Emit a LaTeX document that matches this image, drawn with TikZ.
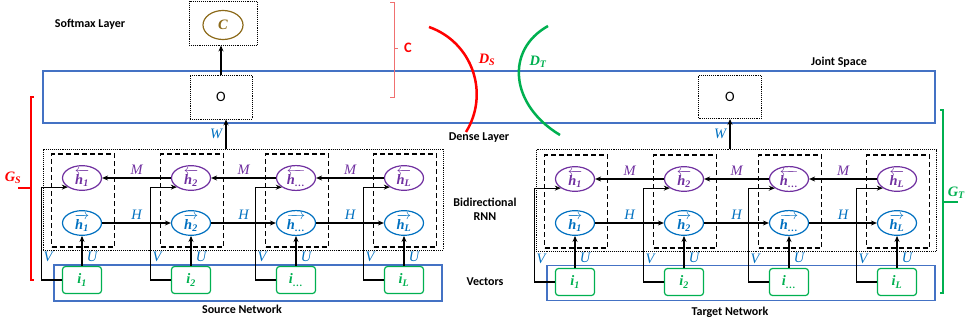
\documentclass[tikz,border=0pt]{standalone}
\usepackage{amsmath}
\usepackage{fontspec}
\setmainfont{Carlito}
\newfontfamily\cambria{Liberation Serif}
\newcommand{\vi}[1]{{\cambria\itshape #1}}
\newcommand{\vb}[1]{\text{\cambria\bfseries\itshape #1}}
\usetikzlibrary{shapes.geometric, arrows.meta}
\definecolor{rnnblue}{HTML}{0070C0}
\definecolor{rnnpurple}{HTML}{7030A0}
\definecolor{rnngreen}{HTML}{00B050}
\definecolor{boxblue}{HTML}{4472C4}
\definecolor{softbrown}{HTML}{8C6A1A}
\definecolor{lightred}{HTML}{F07070}
\begin{document}
\begin{tikzpicture}[
    x=1pt, y=-1pt, >={Stealth[length=6pt, width=5pt]},
    fwd/.style={draw=rnnblue, line width=1.2pt, ellipse, minimum width=39pt, minimum height=24pt, inner sep=0pt, text=rnnblue, font=\Large},
    bwd/.style={fwd, draw=rnnpurple, text=rnnpurple},
    inp/.style={draw=rnngreen, line width=1.2pt, rounded corners=3pt, minimum width=39pt, minimum height=27pt, inner sep=0pt, text=rnngreen, font=\Large},
    cell/.style={draw, dash pattern=on 5pt off 3pt, line width=1.1pt, minimum width=63pt, minimum height=93pt, inner sep=0pt},
    dotbox/.style={draw, densely dotted, line width=0.9pt, inner sep=0pt},
    bluebox/.style={draw=boxblue, line width=1.1pt, inner sep=0pt},
    lbl/.style={font=\large\bfseries},
    wlbl/.style={text=rnnblue, font=\Large},
    wire/.style={line width=1.1pt, ->}
]
  \useasboundingbox (0,0) rectangle (965,326);

  % Joint space and dense layer
  \node[bluebox, minimum width=892pt, minimum height=52pt] (joint) at (489,97) {};
  \node[dotbox, minimum width=62pt, minimum height=44pt, font=\Large] (so) at (221,97) {O};
  \node[dotbox, minimum width=63pt, minimum height=43pt, font=\Large] (to) at (730,97) {O};

  % Softmax layer
  \node[dotbox, minimum width=68pt, minimum height=44pt] (smax) at (223,23) {};
  \node[ellipse, draw=softbrown, line width=1.2pt, minimum width=40pt, minimum height=29pt, inner sep=0pt, text=softbrown, font=\Large] (cls) at (223,25) {$\vb{C}$};
  \draw[wire] (so.north) -- (so.north |- smax.south);

  % Source and target networks
  \foreach \p/\dx/\dy in {s/0/0, t/493/1} {
    \node[dotbox, minimum width=400pt, minimum height=101pt+\dy pt] (\p bir) at (243+\dx,199.5+\dy) {};
    \node[bluebox, minimum width=388pt, minimum height=36pt-\dy pt] (\p vec) at (248+\dx,283) {};
    \foreach \i/\x/\sub in {1/82/1, 2/191/2, 3/296/{\dots}, 4/404/L} {
      \node[cell] (\p c\i) at (\x+\dx+1,200.5+\dy) {};
      \node[bwd] (\p b\i) at (\x+\dx,178+\dy) {$\overleftarrow{\vb{h}_{\vb{\sub}}}$};
      \node[fwd] (\p f\i) at (\x+\dx,223) {$\overrightarrow{\vb{h}_{\vb{\sub}}}$};
      \node[inp] (\p i\i) at (\x+\dx,280+2*\dy) {$\vb{i}_{\vb{\sub}}$};
      \draw[wire] (\p i\i) -- node[pos=0.3, right, xshift=1pt, wlbl] {\vi{U}} (\p f\i);
      \draw[wire] (\p i\i.west) -- ++(-20,0) coordinate (\p v\i) |- (\p b\i.south west);
      \path (\p v\i) ++(0,-23) node[right, inner sep=1.5pt, wlbl] {\vi{V}};
    }
    \foreach \i/\j in {1/2, 2/3, 3/4} {
      \draw[wire] (\p f\i) -- node[above, wlbl] {\vi{H}} (\p f\j);
      \draw[wire] (\p b\j) -- node[above, wlbl, text=rnnpurple] {\vi{M}} (\p b\i);
    }
  }

  % Dense layer inputs
  \coordinate (sw) at ([xshift=5pt]so.south);
  \draw[wire] (sw |- sbir.north) -- node[left, wlbl] {\vi{W}} (sw);
  \draw[wire] (to.south |- tbir.north) -- node[left, wlbl] {\vi{W}} (to.south);

  % Brackets and discriminators
  \draw[lightred, line width=0.6pt] (390,2) -- (394,2) -- (394,97) -- (390,97);
  \draw[lightred, line width=0.6pt] (394,48) -- (398,48);
  \node[text=red, font=\Large\bfseries] (clbl) at (408,48) {C};
  \draw[red, line width=2.2pt] (34,97) -- (31,97) -- (31,280) -- (34,280);
  \draw[red, line width=2.2pt] (31,188) -- (18,188);
  \node[text=red, font=\Large] (gs) at (13,178) {$\vb{G}_{\vb{S}}$};
  \draw[rnngreen, line width=2.2pt] (940,110) -- (943,110) -- (943,293) -- (940,293);
  \draw[rnngreen, line width=2.2pt] (943,202) -- (958,202);
  \node[anchor=east, inner sep=0pt, text=rnngreen, font=\Large] (gt) at (965,193) {$\vb{G}_{\vb{T}}$};
  \draw[red, line width=2.5pt] (429,27) .. controls (472,42) and (490,93) .. (466,132);
  \node[text=red, font=\Large] (ds) at (487,60) {$\vb{D}_{\vb{S}}$};
  \draw[rnngreen, line width=2.5pt] (548,26) .. controls (505,50) and (510,105) .. (560,135);
  \node[text=rnngreen, font=\Large] (dt) at (538,62) {$\vb{D}_{\vb{T}}$};

  % Labels
  \node[lbl] (softlbl) at (90,24) {Softmax Layer};
  \node[lbl] (denselbl) at (479,138) {Dense Layer};
  \node[lbl] (jointlbl) at (839,62) {Joint Space};
  \node[lbl, align=center] (rnnlbl) at (485,209) {Bidirectional\\RNN};
  \node[lbl] (veclbl) at (485,282) {Vectors};
  \node[lbl] (srclbl) at (242,309) {Source Network};
  \node[lbl] (tgtlbl) at (730,312) {Target Network};
\end{tikzpicture}
\end{document}
